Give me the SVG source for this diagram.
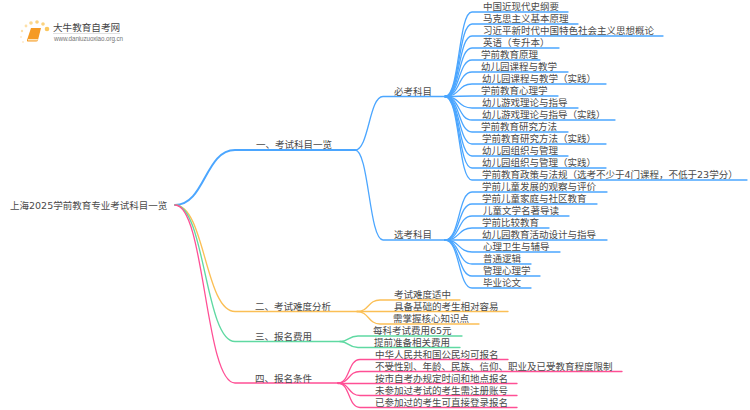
<svg xmlns="http://www.w3.org/2000/svg" width="750" height="410" viewBox="0 0 750 410">
<style>
text{font-family:"DejaVu Sans","Noto Sans CJK SC",sans-serif;font-size:9.5px;fill:#4a4a4a}
.w,.w path{fill:none;stroke-linecap:round}
.b{stroke:#4ba6ff}.o{stroke:#fbbf55}.g{stroke:#5fd9a2}.p{stroke:#ff4f95}
.t1{stroke-width:2}.t2{stroke-width:1.3}
</style>
<rect width="750" height="410" fill="#fff"/>
<g id="logo">
<circle cx="47" cy="29" r="2.3" fill="#fbc860"/><circle cx="43" cy="24" r="1.8" fill="#fbd27e"/><circle cx="37" cy="22" r="1.8" fill="#fbd27e"/><circle cx="31" cy="23" r="1.8" fill="#fcd98f"/><circle cx="26" cy="26" r="1.4" fill="#fde0a8"/><circle cx="22" cy="31" r="1.2" fill="#fde0a8"/><circle cx="21" cy="37" r="1" fill="#feeacb"/><circle cx="23" cy="42" r="1" fill="#feeacb"/>
<path d="M31 28h10l-3 12q-.3 1.500-2 1.500H28q-1.500 0-1-1.500z" fill="#f59a23"/><path d="M28 39h10l-.5 1.500H28z" fill="#fde3b8"/>
<text x="53" y="31" style="font-family:'Noto Sans CJK SC',sans-serif;font-size:9.6px;fill:#444">大牛教育自考网</text>
<path d="M53 33.500h67" stroke="#ccc" stroke-width=".6"/>
<text x="54" y="41" textLength="69" style="font-family:'Liberation Sans',sans-serif;font-size:6.300px;fill:#777">www.daniuzuoxiao.org.cn</text>
</g>
<g id="connectors">
<path class="w b t1" d="M175 205C205 205 205 150 235 150H355"/>
<path class="w o t2" d="M175 205C205 205 205 311.500 235 311.500H357"/>
<path class="w g t2" d="M175 205C205 205 205 341.500 235 341.500H340"/>
<path class="w p t2" d="M175 205C205 205 205 383 235 383H338"/>
<path class="w b t2" d="M355 150C369 150 369 96.500 383 96.500H445"/>
<path class="w b t2" d="M355 150C369 150 369 240 383 240H445"/>
<g class="w b t2">
<path d="M445 96.500C460 96.500 458 12 472 12H568"/>
<path d="M445 96.500C460 96.500 458 24 472 24H578"/>
<path d="M445 96.500C460 96.500 458 36 472 36H663"/>
<path d="M445 96.500C460 96.500 458 48 472 48H559"/>
<path d="M445 96.500C460 96.500 458 60 472 60H540"/>
<path d="M445 96.500C460 96.500 458 72 472 72H568"/>
<path d="M445 96.500C460 96.500 458 84 472 84H606"/>
<path d="M445 96.500C460 96.500 458 96 472 96H558"/>
<path d="M445 96.500C460 96.500 458 108 472 108H578"/>
<path d="M445 96.500C460 96.500 458 120 472 120H615"/>
<path d="M445 96.500C460 96.500 458 132 472 132H568"/>
<path d="M445 96.500C460 96.500 458 144 472 144H606"/>
<path d="M445 96.500C460 96.500 458 156 472 156H568"/>
<path d="M445 96.500C460 96.500 458 168 472 168H606"/>
<path d="M445 96.500C460 96.500 458 180 472 180H747"/>
<path d="M445 240C460 240 458 192 472 192H607"/>
<path d="M445 240C460 240 458 204 472 204H597"/>
<path d="M445 240C460 240 458 216 472 216H569"/>
<path d="M445 240C460 240 458 228 472 228H549"/>
<path d="M445 240H607"/>
<path d="M445 240C460 240 458 252 472 252H560"/>
<path d="M445 240C460 240 458 264 472 264H531"/>
<path d="M445 240C460 240 458 276 472 276H540"/>
<path d="M445 240C460 240 458 288 472 288H531"/>
</g>
<path class="w o t2" d="M357 311.500C369 311.500 368 300 380 300H460"/>
<path class="w o t2" d="M357 311.500H508"/>
<path class="w o t2" d="M357 311.500C369 311.500 368 324 380 324H479"/>
<path class="w g t2" d="M340 341.500C349 341.500 348 336 358 336H462"/>
<path class="w g t2" d="M340 341.500C349 341.500 348 347.500 358 347.500H460"/>
<path class="w p t2" d="M338 383C350 383 348 359.500 360 359.500H508"/>
<path class="w p t2" d="M338 383C350 383 348 371.500 360 371.500H622"/>
<path class="w p t2" d="M338 383.500H517"/>
<path class="w p t2" d="M338 383C350 383 348 395.500 360 395.500H517"/>
<path class="w p t2" d="M338 383C350 383 348 407.500 360 407.500H517"/>
</g>
<g id="root"><text x="10" y="209">上海2025学前教育专业考试科目一览</text></g>
<g id="n1"><text x="256" y="148">一、考试科目一览</text></g>
<g id="n2"><text x="255" y="309.500">二、考试难度分析</text></g>
<g id="n3"><text x="255" y="339.500">三、报名费用</text></g>
<g id="n4"><text x="255" y="381.500">四、报名条件</text></g>
<g id="n11"><text x="394" y="94.500">必考科目</text></g>
<g id="n12"><text x="394" y="238">选考科目</text></g>
<g id="leaves">
<text x="483" y="10">中国近现代史纲要</text>
<text x="483" y="22">马克思主义基本原理</text>
<text x="483" y="34">习近平新时代中国特色社会主义思想概论</text>
<text x="483" y="46">英语（专升本）</text>
<text x="481" y="58">学前教育原理</text>
<text x="481" y="70">幼儿园课程与教学</text>
<text x="482" y="82">幼儿园课程与教学（实践）</text>
<text x="481" y="94">学前教育心理学</text>
<text x="482" y="106">幼儿游戏理论与指导</text>
<text x="482" y="118">幼儿游戏理论与指导（实践）</text>
<text x="481" y="130">学前教育研究方法</text>
<text x="482" y="142">学前教育研究方法（实践）</text>
<text x="482" y="154">幼儿园组织与管理</text>
<text x="482" y="166">幼儿园组织与管理（实践）</text>
<text x="482" y="178">学前教育政策与法规（选考不少于4门课程，不低于23学分）</text>
<text x="482" y="190">学前儿童发展的观察与评价</text>
<text x="482" y="202">学前儿童家庭与社区教育</text>
<text x="483" y="214">儿童文学名著导读</text>
<text x="482" y="226">学前比较教育</text>
<text x="482" y="238">幼儿园教育活动设计与指导</text>
<text x="483" y="250">心理卫生与辅导</text>
<text x="483" y="262">普通逻辑</text>
<text x="483" y="274">管理心理学</text>
<text x="483" y="286">毕业论文</text>
<text x="394" y="298">考试难度适中</text>
<text x="394" y="309.500">具备基础的考生相对容易</text>
<text x="393" y="322">需掌握核心知识点</text>
<text x="373" y="334">每科考试费用65元</text>
<text x="374" y="346">提前准备相关费用</text>
<text x="375" y="358">中华人民共和国公民均可报名</text>
<text x="375" y="370">不受性别、年龄、民族、信仰、职业及已受教育程度限制</text>
<text x="375" y="382">按市自考办规定时间和地点报名</text>
<text x="375" y="394">未参加过考试的考生需注册账号</text>
<text x="375" y="406">已参加过的考生可直接登录报名</text>
</g>
</svg>
